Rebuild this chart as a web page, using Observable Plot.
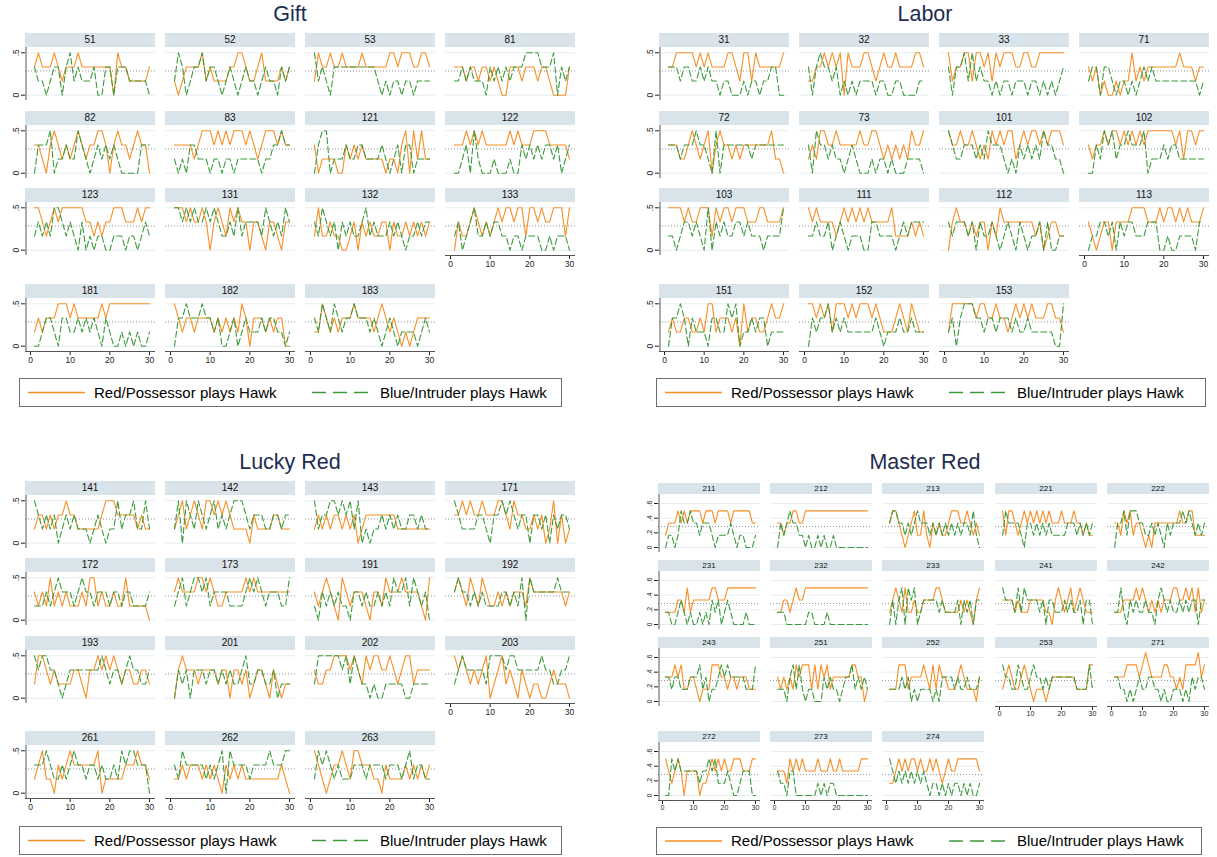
<!DOCTYPE html>
<html><head><meta charset="utf-8">
<script src="https://cdn.jsdelivr.net/npm/d3@7"></script>
<script src="https://cdn.jsdelivr.net/npm/@observablehq/plot@0.6"></script>
<style>
body{margin:0;background:#fff;font-family:"Liberation Sans",Arial,Helvetica,sans-serif;}
#root{position:relative;width:1217px;height:857px;overflow:hidden;background:#fff;}
.title{position:absolute;width:300px;font-size:21.5px;color:#1e2d52;text-align:center;}
.hdr{position:absolute;background:#d9e4ea;color:#111;text-align:center;}
.pl{position:absolute;}
.legend{position:absolute;border:1px solid #6f6f6f;box-sizing:border-box;background:#fff;}
.legend span{position:absolute;font-size:15px;color:#000;white-space:nowrap;}
.legend svg{position:absolute;left:0;top:0;}
</style></head><body><div id="root"></div>
<script>
// values are counts out of 6 players (digit k means k/6), one digit per period 1..30
const periods = d3.range(1, 31);
const refValue = 0.2857;
const redLabel = "Red/Possessor plays Hawk";
const blueLabel = "Blue/Intruder plays Hawk";

const giftIds = [51,52,53,81,82,83,121,122,123,131,132,133,181,182,183];
const giftRed = [
"2322232122 2322222222 0322111112","1012222312 1111223321 1231111212","1322322322 2232222223 3233322332",
"2221221221 2100222122 2122100002","2210232121 2321223320 2322123220","2222212333 2323233323 2123332322",
"2011110021 2121111101 1023031311","2223232322 2222323222 3333222221","3321232333 3332212122 3332223233",
"3332322320 2321323220 2210221022","1311211001 2021211220 2112121212","0211232121 2323323313 3232233313",
"1212223332 3222222323 3333333333","3212212222 1212121320 2221212200","1132121222 3222212321 2101012222"];
const giftBlue = [
"2110122023 1211120022 0222111110","1320122312 2101210121 1012110212","3121022222 2222221010 1101101111",
"1121211102 1212122233 3322230212","0222301121 1321012121 2100000222","1010221110 1101101111 1101122322",
"0233011121 1221111210 1202201111","0012031000 1000100212 1212212012","1212133212 1020101100 1110110121",
"3323232232 3211213122 2213212132","2132120212 1123121112 1210112122","1201231121 2211011011 1100101110",
"0012210221 1212121021 0010101001","0223222322 1200120121 1121221101","2132132122 3222121012 1011110121"];

const laborIds = [31,32,33,71,72,73,101,102,103,111,112,113,151,152,153];
const laborRed = [
"2233333232 3222233213 3132222223","1122323230 3222332123 2232222332","3122331332 3132333223 3223333333",
"2120100101 1312122222 2223222122","2221123212 3023221212 2222223110","1213322322 2223223321 2121213223",
"3223223212 1323233123 2332323332","2122323323 2323233333 3323133233","3333232233 3132332333 2223322223",
"3232222123 2323232222 2311112121","0232212122 0213222222 2212012211","2101220222 2333322232 3323232223",
"1211221121 3312221203 1221123223","3323231333 2323332321 1123213211","1333333233 2232212323 2322233221"];
const laborBlue = [
"2221221121 2110110001 0110112200","2023221201 0101111011 0011000011","2022313121 1010110111 0110101012",
"1220221011 0101212111 1111111101","2221222322 1030222222 2122222222","2032212110 1210001011 0100011110",
"3211222121 3222101021 2121322110","0021323122 3222301112 1221111111","1101221210 3021211221 2111011113",
"1121120121 0111002211 1101212222","2122212021 1210121021 0112020011","0112212021 2211122200 1001111022",
"0223202111 0221132301 1212201111","0212231212 1111111210 1112112111","1202333221 2212221211 2111111003"];

const luckyIds = [141,142,143,171,172,173,191,192,193,201,202,203,261,262,263];
const luckyRed = [
"1221212232 2111111233 3222221211","1231232133 2323211110 2111122111","1212122121 2012222222 2111111111",
"2232322322 2332132211 2120130201","2121312121 1121331211 2113111110","2322223323 2112222232 3222222222",
"2123210321 2221022132 2232222103","2321321321 1212122213 2222222212","1332121111 2210223232 3212211221",
"0232221222 2122022120 1221021011","2112233332 3213233223 2123312222","3232121230 1231210210 1100121110",
"1231102123 2222223011 1112223221","1121222121 2102121211 1111111210","3210122321 3322211021 1112121212"];
const luckyBlue = [
"3212120121 2111012101 1312231131","1303213212 3121233321 2221122122","3122332323 1301011212 1211221211",
"3211112210 2232321220 2212021221","1112123222 1232212221 2212211112","1231233231 2222111123 2321222113",
"1021212110 2212112121 3223132120","2322121211 1122121303 2222223222","3233221012 2222222321 2212322112",
"0212022212 2121211231 1221120111","1333333231 3211010011 1110011111","1232222213 3332332222 2232211223",
"2223211212 3221221211 2132332220","2132222212 1230322221 2222322233","1323212111 2221222212 2212312211"];

const masterIds = [211,212,213,221,222,231,232,233,241,242,243,251,252,253,271,272,273,274];
const masterRed = [
"1222323233 3323332333 3233333322","2212233223 3333333333 3333333333","2332101231 1310212112 3332232121",
"3133212323 2323232223 2223221211","2213231221 0102222222 2322331111","1111221312 2222233222 3333333333",
"1122123223 3333333333 3333333333","1232131121 1222233211 1112121023","2222121112 2222110232 1231232111",
"1112222323 2121212223 3223231312","2223231122 1011133322 1221222111","2121213233 3131323122 2222332201",
"1113331222 2321313221 1123211102","1232112321 0111012222 2222111133","2222333323 4322223322 1213333423",
"3212320222 2011232323 2233322233","2221323232 2223222322 3222222333","1123232332 3223232123 2233333332"];
const masterBlue = [
"0110132232 2122210111 1210110001","0212322110 1001010010 0000000000","2332212123 2221212121 2121221310",
"1322221022 1212121111 1222121212","0223133322 1121210212 2232321212","1100121010 0101021201 2100001000",
"1110000000 1100001000 0000000000","0202303230 1222221211 1120212022","3222131322 2212022111 2121120220",
"1131021211 2110232121 1212122022","2212211122 2312011232 3222221113","1110231310 1100021211 0122312121",
"1111212010 1111010222 2121121112","3221132112 3221212222 2222111131","2211010121 1221101001 1101021221",
"0032322222 2122323111 2100122200","2110220000 0001010110 0000000000","3212121212 1210110101 0110101001"];

const yTicksSmall = [0, 0.5];
const yTicksMaster = [0, 0.2, 0.4, 0.6];

const dec = s => s.replace(/\s/g, "").split("").map(c => +c / 6);
const ORANGE = "#f98e25", GREEN = "#3b9a3b";
const FONT = '"Liberation Sans", Arial, Helvetica, sans-serif';

const groups = [
  {title:"Gift", ids:giftIds, red:giftRed, blue:giftBlue, cx:290, ty:2,
   cols:[25,165,305,445], w:130, rows:[33,111,188,284], hdrH:14, hdrFont:10, plotH:53,
   ydom:[-0.0625,0.5625], yticks:yTicksSmall, yfmt:d=>d===0?"0":".5", xr:[5,124], tickFont:8.5,
   legend:{x:19,y:378,w:543,h:29}},
  {title:"Labor", ids:laborIds, red:laborRed, blue:laborBlue, cx:925, ty:2,
   cols:[659,799,939,1079], w:130, rows:[33,111,188,284], hdrH:14, hdrFont:10, plotH:53,
   ydom:[-0.0625,0.5625], yticks:yTicksSmall, yfmt:d=>d===0?"0":".5", xr:[5,124], tickFont:8.5,
   legend:{x:656,y:378,w:550,h:29}},
  {title:"Lucky Red", ids:luckyIds, red:luckyRed, blue:luckyBlue, cx:290, ty:450,
   cols:[25,165,305,445], w:130, rows:[481,558,636,731], hdrH:14, hdrFont:10, plotH:53,
   ydom:[-0.0625,0.5625], yticks:yTicksSmall, yfmt:d=>d===0?"0":".5", xr:[5,124], tickFont:8.5,
   legend:{x:19,y:826,w:543,h:29}},
  {title:"Master Red", ids:masterIds, red:masterRed, blue:masterBlue, cx:925, ty:450,
   cols:[658,770,882,995,1107], w:102, rows:[483,560,637,731], hdrH:11, hdrFont:8, plotH:58,
   ydom:[-0.068,0.723], yticks:yTicksMaster, yfmt:d=>d===0?"0":String(d).replace("0.","."), xr:[4,97], tickFont:7,
   legend:{x:656,y:827,w:546,h:28}}
];

const root = document.getElementById("root");

function drawPanel(g, i) {
  const ncol = g.cols.length;
  const r = Math.floor(i / ncol), c = i % ncol;
  const showY = c === 0, showX = i + ncol >= g.ids.length;
  const ml = showY ? 24 : 0, mb = showX ? 16 : 0;
  const red = dec(g.red[i]), blue = dec(g.blue[i]);
  const rows = periods.map((t, k) => ({t, red: red[k], blue: blue[k]}));

  const hdr = document.createElement("div");
  hdr.className = "hdr";
  Object.assign(hdr.style, {left: g.cols[c] + "px", top: g.rows[r] + "px", width: g.w + "px",
    height: g.hdrH + "px", lineHeight: g.hdrH + "px", fontSize: g.hdrFont + "px"});
  hdr.textContent = g.ids[i];
  root.appendChild(hdr);

  const marks = [
    Plot.ruleY(g.yticks, {stroke: "#e6edf0", strokeWidth: 1}),
    Plot.ruleY([refValue], {stroke: "#8f8f8f", strokeDasharray: "1,2", strokeWidth: 1}),
    Plot.lineY(rows, {x: "t", y: "red", stroke: ORANGE, strokeWidth: 1.1}),
    Plot.lineY(rows, {x: "t", y: "blue", stroke: GREEN, strokeWidth: 1.1, strokeDasharray: "6,3"})
  ];
  if (showY) marks.push(Plot.ruleX([0], {dx: -g.xr[0] + 0.5, stroke: "#555", strokeWidth: 1}));
  if (showX) marks.push(Plot.ruleY([g.ydom[0]], {stroke: "#555", strokeWidth: 1}));

  const svg = Plot.plot({
    width: g.w + ml, height: g.plotH + mb,
    marginLeft: ml, marginRight: 0, marginTop: 0, marginBottom: mb,
    style: {fontFamily: FONT, fontSize: g.tickFont + "px", background: "transparent", overflow: "visible", color: "#222"},
    x: {domain: [0, 30], range: [ml + g.xr[0], ml + g.xr[1]], axis: showX ? "bottom" : null,
        ticks: [0, 10, 20, 30], tickSize: 4, tickPadding: 1, label: null, tickFormat: d => String(d)},
    y: {domain: g.ydom, axis: showY ? "left" : null, ticks: g.yticks, tickFormat: g.yfmt,
        tickRotate: -90, tickSize: 4, tickPadding: 3, label: null},
    marks
  });
  svg.classList.add("pl");
  svg.style.left = (g.cols[c] - ml) + "px";
  svg.style.top = (g.rows[r] + g.hdrH) + "px";
  svg.style.position = "absolute";
  svg.style.maxWidth = "none";
  root.appendChild(svg);
}

function drawLegend(g) {
  const L = g.legend;
  const box = document.createElement("div");
  box.className = "legend";
  Object.assign(box.style, {left: L.x + "px", top: L.y + "px", width: L.w + "px", height: L.h + "px"});
  const mid = L.h / 2 - 1;
  box.innerHTML =
    `<svg width="${L.w}" height="${L.h}">
       <line x1="8" x2="65" y1="${mid}" y2="${mid}" stroke="${ORANGE}" stroke-width="1.3"/>
       <line x1="292" x2="350" y1="${mid}" y2="${mid}" stroke="${GREEN}" stroke-width="1.3" stroke-dasharray="14,7"/>
     </svg>
     <span style="left:74px;top:${mid - 9}px">${redLabel}</span>
     <span style="left:360px;top:${mid - 9}px">${blueLabel}</span>`;
  root.appendChild(box);
}

for (const g of groups) {
  const t = document.createElement("div");
  t.className = "title";
  t.style.left = (g.cx - 150) + "px";
  t.style.top = g.ty + "px";
  t.textContent = g.title;
  root.appendChild(t);
  g.ids.forEach((_, i) => drawPanel(g, i));
  drawLegend(g);
}
</script></body></html>
